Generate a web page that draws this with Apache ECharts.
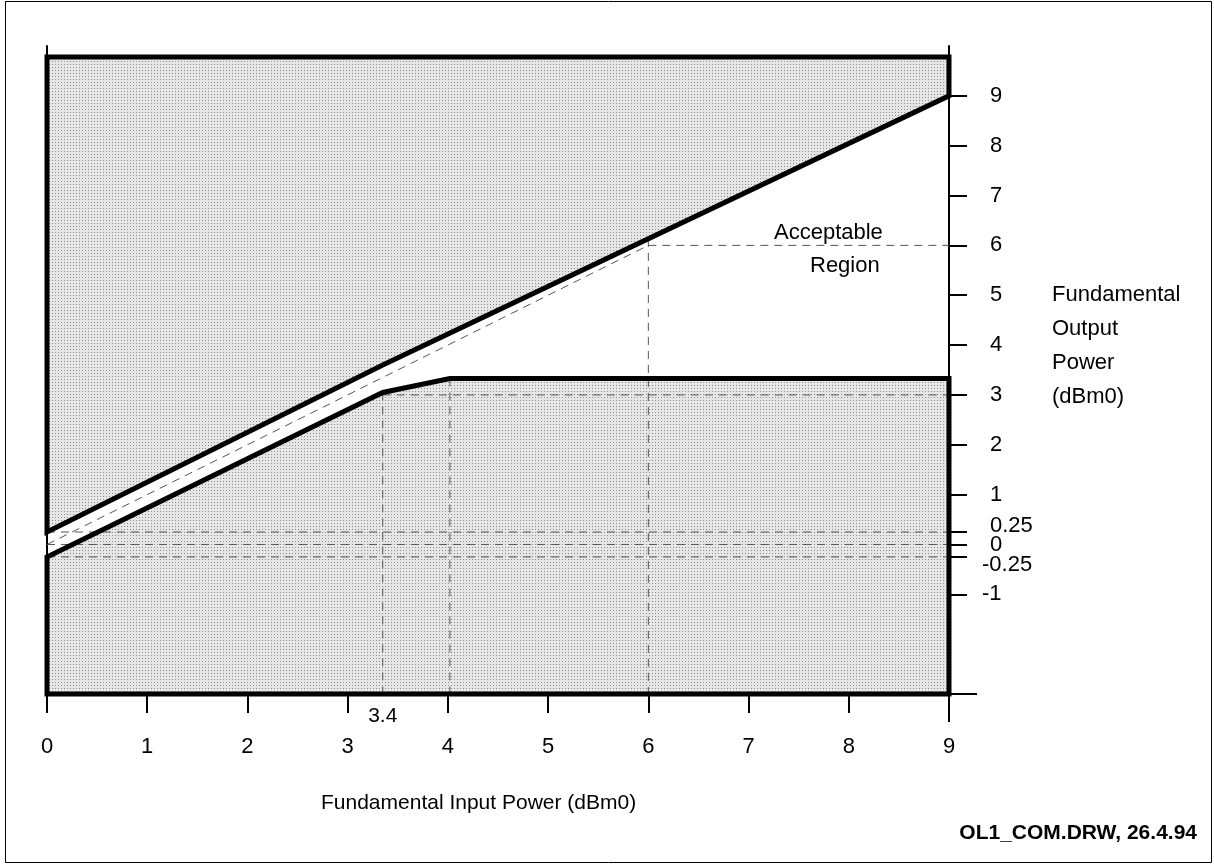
<!DOCTYPE html>
<html><head><meta charset="utf-8">
<script src="https://cdn.jsdelivr.net/npm/echarts@6/dist/echarts.min.js"></script>
<style>html,body{margin:0;padding:0;background:#fff}#c{width:1214px;height:865px}</style>
</head><body><div id="c"></div>
<script>
// ---- data ----
const xTickValues = [0,1,2,3,4,5,6,7,8,9];
const xExtraTick = [3.35];
const xExtraLabel = ['3.4'];
const yTickValues = [-1,-0.25,0,0.25,1,2,3,4,5,6,7,8,9];
const yTickLabels = ['-1','-0.25','0','0.25','1','2','3','4','5','6','7','8','9'];
const regionTop = 9.78;
const regionBottom = -3;
const upperEdge = [[0,0.25],[3.35,3.6],[9,9]];
const lowerEdge = [[0,-0.25],[3.35,3.05],[4.02,3.33],[9,3.33]];
const diagonalRef = [[0,0],[6,6]];
const hRef025 = [[0,0.25],[9,0.25]];
const hRef0 = [[0,0],[9,0]];
const hRefM025 = [[0,-0.25],[9,-0.25]];
const hRef3 = [[3.35,3],[9,3]];
const hRef6 = [[6,6],[9,6]];
const vRef34 = [[3.35,3.05],[3.35,-3]];
const vRef4 = [[4.02,3.33],[4.02,-3]];
const vRef6 = [[6,6.13],[6,-3]];
const refLines = [diagonalRef,hRef025,hRef0,hRefM025,hRef3,hRef6,vRef34,vRef4,vRef6];
const xAxisTitle = 'Fundamental Input Power (dBm0)';
const yAxisTitle = 'Fundamental\nOutput\nPower\n(dBm0)';
const regionLabelLines = ['Acceptable','Region'];
const footer = 'OL1_COM.DRW, 26.4.94';

// ---- build ----
const FONT = '"Liberation Sans", Arial, Helvetica, sans-serif';
const upperRegion = upperEdge.concat([[9,regionTop],[0,regionTop]]);
const lowerRegion = lowerEdge.concat([[9,regionBottom],[0,regionBottom]]);

function makePattern(){
  const c = document.createElement('canvas'); c.width = 3; c.height = 3;
  const g = c.getContext('2d');
  g.fillStyle = '#e6e6e6'; g.fillRect(0,0,3,3);
  g.fillStyle = '#8e8e8e'; g.fillRect(1,1,1,1);
  return c;
}
const pattern = {image: makePattern(), repeat: 'repeat'};

function polySeries(points, fill, stroke, z){
  return {
    type:'custom', z:z, clip:false, silent:true,
    data:[[points[0][0], points[0][1]]],
    renderItem: function(params, api){
      return {type:'polygon', shape:{points: points.map(p => api.coord(p))},
        style:{fill: fill, stroke: stroke, lineWidth: stroke ? 5 : 0, lineJoin:'miter'}};
    }
  };
}

const series = [
  polySeries(upperRegion, pattern, null, 1),
  polySeries(lowerRegion, pattern, null, 1)
];
refLines.forEach(seg => series.push({
  type:'line', data: seg, symbol:'none', z:2, silent:true, animation:false,
  lineStyle:{color:'#555', width:1, type:[8,6]}
}));
series.push(polySeries(upperRegion, 'none', '#000', 3));
series.push(polySeries(lowerRegion, 'none', '#000', 3));

const chart = echarts.init(document.getElementById('c'), null, {renderer:'canvas'});
const baseGraphic = [
  {id:'frame', type:'rect', shape:{x:5.5, y:1.5, width:1206, height:861}, style:{fill:'none', stroke:'#000', lineWidth:1}, z:0},
  {id:'region1', type:'text', left:774, top:222, style:{text:regionLabelLines[0], font:'22px '+FONT, fill:'#000'}},
  {id:'region2', type:'text', left:810, top:255, style:{text:regionLabelLines[1], font:'22px '+FONT, fill:'#000'}},
  {id:'ytitle', type:'text', left:1052, top:278, style:{text:yAxisTitle, font:'22px '+FONT, fill:'#000', lineHeight:34}},
  {id:'xtitle', type:'text', left:321, top:793, style:{text:xAxisTitle, font:'21px '+FONT, fill:'#000'}},
  {id:'footer', type:'text', right:17, top:823, style:{text:footer, font:'bold 21px '+FONT, fill:'#000'}}
];
chart.setOption({
  animation:false,
  backgroundColor:'#fff',
  grid:{left:47, right:265, top:46, bottom:171, containLabel:false},
  xAxis:[{
    type:'value', min:0, max:9, interval:1, position:'bottom',
    axisLine:{show:true, onZero:false, lineStyle:{color:'#000', width:2}},
    axisTick:{show:true, length:19, lineStyle:{color:'#000', width:2}},
    axisLabel:{color:'#000', fontSize:22, fontFamily:FONT, margin:42,
      customValues: xTickValues, formatter: v => String(v)},
    splitLine:{show:false}
  },{
    type:'value', min:0, max:9, position:'bottom',
    axisLine:{show:false}, axisTick:{show:false}, splitLine:{show:false},
    axisLabel:{color:'#000', fontSize:21, fontFamily:FONT, margin:12,
      customValues: xExtraTick, formatter: v => xExtraLabel[xExtraTick.indexOf(v)]}
  }],
  yAxis:[{
    type:'value', min:-3, max:10, position:'right',
    axisLine:{show:true, onZero:false, lineStyle:{color:'#000', width:2}},
    axisTick:{show:true, length:18, customValues: yTickValues, lineStyle:{color:'#000', width:2}},
    axisLabel:{color:'#000', fontSize:22, fontFamily:FONT, margin:33, align:'left',
      customValues: yTickValues,
      formatter: v => {
        const t = yTickLabels[yTickValues.indexOf(v)];
        if (v === 0.25) return '{up|'+t+'}';
        if (v === -0.25) return '{dn|'+t+'}';
        if (v < 0) return '{n|'+t+'}';
        return '{p|'+t+'}';
      },
      rich:{
        p:{fontSize:22, fontFamily:FONT, color:'#000', padding:[0,0,0,8]},
        n:{fontSize:22, fontFamily:FONT, color:'#000'},
        up:{fontSize:22, fontFamily:FONT, color:'#000', padding:[0,0,12,8]},
        dn:{fontSize:22, fontFamily:FONT, color:'#000', padding:[16,0,0,0]}
      }},
    splitLine:{show:false}
  },{
    type:'value', min:-3, max:10, position:'left',
    axisLine:{show:true, onZero:false, lineStyle:{color:'#000', width:2}},
    axisTick:{show:false}, axisLabel:{show:false}, splitLine:{show:false}
  }],
  graphic: baseGraphic,
  series: series
});
const corner = chart.convertToPixel({gridIndex:0}, [9, regionBottom]);
chart.setOption({graphic: baseGraphic.concat([
  {id:'extH', type:'line', shape:{x1:corner[0], y1:corner[1], x2:corner[0]+28, y2:corner[1]}, style:{stroke:'#000', lineWidth:2}},
  {id:'extV', type:'line', shape:{x1:corner[0], y1:corner[1], x2:corner[0], y2:corner[1]+28}, style:{stroke:'#000', lineWidth:2}}
])});
</script></body></html>
